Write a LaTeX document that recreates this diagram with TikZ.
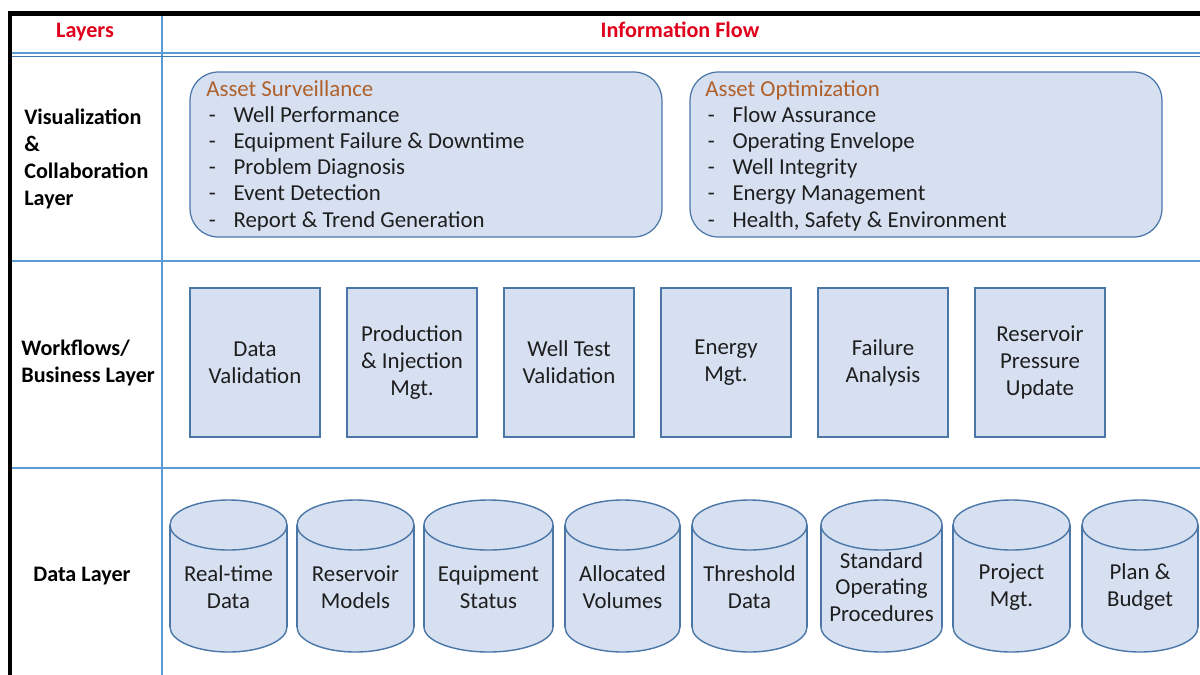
\documentclass[tikz,border=0pt]{standalone}
\usepackage{fontspec}
\setmainfont{Carlito}

\definecolor{boxfill}{HTML}{D6E0F1}
\definecolor{boxline}{HTML}{4A76A8}
\definecolor{gridblue}{HTML}{5B9BD5}
\definecolor{griddark}{HTML}{3F78B5}
\definecolor{headred}{HTML}{E0001B}
\definecolor{titlebrown}{HTML}{B0602A}
\definecolor{textdark}{HTML}{1E1E1E}

\newcommand{\itm}[1]{\makebox[15.5pt][l]{\hspace{1.5pt}-}#1}

\tikzset{
  frameline/.style={line width=2.3pt, black},
  gridline/.style={line width=0.8pt, gridblue},
  headtext/.style={anchor=base, font=\fontsize{12.6}{15}\selectfont\bfseries, text=headred},
  layerlabel/.style={anchor=west, align=left, inner sep=0pt,
    font=\fontsize{12.6}{15.2}\selectfont\bfseries},
  panel/.style={draw=boxline, fill=boxfill, line width=0.7pt, rounded corners=16pt},
  paneltext/.style={anchor=west, align=left, inner sep=0pt, text=textdark,
    font=\fontsize{13}{14.9}\selectfont},
  flowbox/.style={draw=boxline, fill=boxfill, line width=0.8pt, align=center,
    minimum width=2.6cm, minimum height=2.98cm, text=textdark,
    font=\fontsize{13}{15.3}\selectfont},
  cylline/.style={draw=boxline, fill=boxfill, line width=0.8pt},
  cyltext/.style={align=center, text=textdark, font=\fontsize{13}{15.1}\selectfont}
}

\begin{document}
\begin{tikzpicture}[x=0.02cm, y=-0.02cm]
  \useasboundingbox (0,0) rectangle (1200,674);

  % table grid
  \draw[gridline] (162,15) -- (162,676);
  \draw[gridline, line width=1.5pt] (12,53) -- (1202,53);
  \draw[griddark, line width=0.5pt] (12,56) -- (1202,56);
  \draw[gridline, line width=1.4pt] (12,261) -- (1202,261);
  \draw[gridline, line width=1.1pt] (12,468) -- (1202,468);
  \draw[frameline] (1202,13.5) -- (10,13.5) -- (10,676);

  % header
  \node[headtext] (hlayers) at (85,37.5) {Layers};
  \node[headtext] (hflow) at (680,37.5) {Information Flow};

  % layer names
  \node[layerlabel] (vizlayer) at (24,159) {Visualization\\\&\\Collaboration\\Layer};
  \node[layerlabel] (flowlayer) at (21,363) {Workflows/\\Business Layer};
  \node[layerlabel] (datalayer) at (33,576) {Data Layer};

  % visualization layer
  \node[panel, minimum width=9.44cm, minimum height=3.3cm] (survbox) at (426,154.5) {};
  \node[panel, minimum width=9.44cm, minimum height=3.3cm] (optbox) at (926,154.5) {};
  \node[paneltext] (survtext) at (206,155.5) {{\color{titlebrown}Asset Surveillance}\\
    \itm{Well Performance}\\\itm{Equipment Failure \& Downtime}\\
    \itm{Problem Diagnosis}\\\itm{Event Detection}\\\itm{Report \& Trend Generation}};
  \node[paneltext] (opttext) at (705,155.5) {{\color{titlebrown}Asset Optimization}\\
    \itm{Flow Assurance}\\\itm{Operating Envelope}\\
    \itm{Well Integrity}\\\itm{Energy Management}\\\itm{Health, Safety \& Environment}};

  % workflows / business layer
  \foreach \i/\nm/\txt in {0/datavalid/{Data\\Validation},
      1/prodinj/{Production\\\& Injection\\Mgt.},
      2/welltest/{Well Test\\Validation},
      3/energy/{Energy\\Mgt.},
      4/failure/{Failure\\Analysis},
      5/respress/{Reservoir\\Pressure\\Update}}
    \node[flowbox] (\nm) at ({255+157*\i},362.5) {\txt};

  % data layer
  \foreach \cx/\w/\nm/\txt in {228.5/117/realtime/{Real-time\\Data},
      355.5/117/resmodel/{Reservoir\\Models},
      488.5/129/equip/{Equipment\\Status},
      622.5/115/alloc/{Allocated\\Volumes},
      749.5/115/thresh/{Threshold\\Data},
      881.5/121/sop/{Standard\\Operating\\Procedures},
      1011.5/117/projmgt/{Project\\Mgt.},
      1140/116/plan/{Plan \&\\Budget}} {
    \filldraw[cylline] (\cx,627) ellipse [x radius={\w/2}, y radius=25];
    \fill[boxfill] ({\cx-\w/2},525) rectangle ({\cx+\w/2},627);
    \draw[cylline] ({\cx-\w/2},525) -- ({\cx-\w/2},627);
    \draw[cylline] ({\cx+\w/2},525) -- ({\cx+\w/2},627);
    \filldraw[cylline] (\cx,525) ellipse [x radius={\w/2}, y radius=25];
    \node[cyltext] (\nm) at (\cx,587) {\txt};
  }
\end{tikzpicture}
\end{document}
